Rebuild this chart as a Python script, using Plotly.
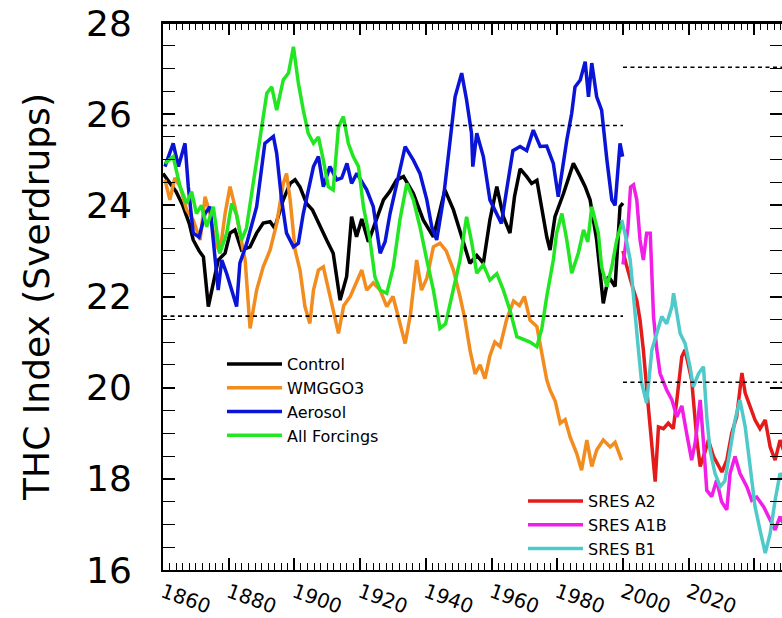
import plotly.graph_objects as go

# ---------------- data ----------------
ctrl_years = [1860, 1862, 1864, 1866, 1868, 1869.2, 1871, 1872.3, 1873.8, 1875.3, 1876.8, 1878.9, 1880.4, 1881.9,
              1883.9, 1886.5, 1888.5, 1890.5, 1892.6, 1894, 1896.6, 1898.7, 1900.2, 1901.7, 1903.7, 1905.5, 1907.8,
              1909.8, 1911.8, 1913.9, 1915.9, 1917.4, 1918.9, 1920.5, 1922.5, 1924.5, 1927.1, 1929, 1931.1, 1933.2,
              1936.2, 1939.2, 1942.3, 1944, 1945.8, 1948.4, 1951.4, 1953.4, 1955.5, 1957.5, 1959.5, 1961.6, 1963.6,
              1965.6, 1967, 1968.7, 1970.7, 1972.2, 1973.8, 1975.3, 1976.8, 1977.8, 1979.3, 1981.9, 1984.9, 1987,
              1988.5, 1990, 1992, 1994, 1995.6, 1997.6, 1999.1, 2000]
ctrl_vals = [24.7, 24.5, 24.3, 24.0, 23.6, 23.24, 23.0, 22.87, 21.78, 22.29, 22.8, 22.95, 23.39, 23.46,
             23.02, 23.09, 23.39, 23.61, 23.64, 23.5, 24.12, 24.48, 24.56, 24.4, 24.04, 23.9, 23.53,
             23.24, 22.95, 21.92, 22.44, 23.75, 23.31, 23.7, 23.2, 23.6, 24.12, 24.3, 24.56, 24.63,
             24.26, 23.68, 23.31, 23.8, 24.34, 23.9, 23.17, 22.73, 22.9, 22.73, 23.68, 24.41, 23.75,
             23.39, 24.2, 24.8, 24.63, 24.48, 24.55, 23.9, 23.31, 23.02, 23.75, 24.26, 24.92, 24.63,
             24.41, 24.12, 23.24, 21.85, 22.44, 22.22, 23.97, 24.05]

wmg_years = [1860.6, 1862.1, 1863.6, 1865.2, 1867.2, 1869.2, 1871.3, 1872.8, 1874.3, 1875.8, 1877.3, 1878.9,
             1880.4, 1881.9, 1883.4, 1885, 1886.5, 1888.5, 1890.5, 1892.6, 1894.6, 1896.6, 1897.6, 1898.7,
             1900.2, 1901.7, 1903.2, 1904.7, 1905.8, 1907.3, 1908.8, 1910.3, 1911.8, 1913.4, 1915, 1917,
             1918.8, 1920.5, 1922, 1924, 1926.1, 1928.1, 1930, 1932.1, 1933.7, 1935.3, 1937.2, 1938.7,
             1940.3, 1942.3, 1944.3, 1946.2, 1948.4, 1950.4, 1951.9, 1953.5, 1955, 1956.5, 1958, 1959.5,
             1961, 1962.6, 1964.6, 1966.7, 1968.5, 1970, 1971.7, 1973.8, 1975.3, 1976.8, 1977.8, 1979.4,
             1980.9, 1982.4, 1983.9, 1985.9, 1987.4, 1989, 1990.5, 1992, 1994, 1996.1, 1997.6, 1999.6]
wmg_vals = [24.56, 24.12, 24.6, 24.41, 23.9, 23.68, 23.24, 24.19, 23.82, 23.24, 22.95, 23.82,
            24.41, 23.97, 23.39, 22.8, 21.3, 22.14, 22.65, 23.02, 23.6, 24.48, 24.7, 24.12,
            23.02, 22.58, 21.78, 21.41, 22.14, 22.58, 22.65, 22.14, 21.7, 21.19, 21.8, 22.0,
            22.3, 22.58, 22.14, 22.3, 22.14, 21.78, 22.0, 21.41, 20.97, 21.6, 22.8, 22.14,
            22.4, 23.09, 23.17, 23.0, 22.58, 22.0, 21.5, 20.8, 20.3, 20.5, 20.2, 20.7,
            21.0, 20.9, 21.5, 21.9, 21.8, 22.0, 21.48, 21.34, 20.75, 20.17, 19.95, 19.7,
            19.22, 19.3, 18.92, 18.56, 18.19, 18.85, 18.27, 18.63, 18.85, 18.7, 18.8, 18.41]

aer_years = [1860.6, 1863.1, 1864.7, 1866.7, 1867.7, 1869.2, 1871, 1872.8, 1874.3, 1875.8, 1876.8, 1877.9,
             1879.4, 1880.9, 1882.4, 1883.4, 1885.5, 1888.5, 1891, 1893.6, 1894.6, 1896.1, 1897.6, 1899.7,
             1901.2, 1902.7, 1904.2, 1905.8, 1907.3, 1908.8, 1910.8, 1912.9, 1914.4, 1916, 1917.4, 1919,
             1922, 1924, 1926.1, 1927.6, 1929.1, 1931.6, 1933.7, 1936.2, 1938.2, 1940.3, 1941.8, 1943.3,
             1945.3, 1947.4, 1948.9, 1950.9, 1952.4, 1953.9, 1954.3, 1955.5, 1957.5, 1959.5, 1961.6, 1963,
             1964.5, 1966.5, 1968.7, 1970.7, 1972.7, 1974.8, 1976.8, 1978.8, 1980.3, 1981.5, 1982.9, 1984.4,
             1985.4, 1987, 1988.5, 1989.5, 1990.5, 1992, 1993.5, 1995.1, 1996.6, 1997.6, 1999.1, 1999.9]
aer_vals = [24.85, 25.36, 24.85, 25.36, 24.41, 23.39, 23.3, 23.82, 23.97, 22.95, 22.14, 22.8,
            22.5, 22.14, 21.78, 22.73, 23.17, 23.97, 25.36, 25.51, 25.14, 24.12, 23.39, 23.09,
            23.17, 23.82, 24.3, 24.85, 25.07, 24.41, 24.85, 24.56, 24.6, 24.92, 24.48, 24.7,
            24.34, 23.97, 22.95, 23.2, 23.82, 24.63, 25.29, 24.99, 24.7, 24.12, 23.53, 23.24,
            24.12, 25.43, 26.38, 26.9, 26.31, 25.58, 24.85, 25.58, 25.07, 24.12, 23.82, 23.6,
            24.3, 25.2, 25.29, 25.2, 25.65, 25.29, 25.3, 24.92, 24.19, 24.8, 25.43, 26.02,
            26.6, 26.75, 27.15, 26.38, 27.12, 26.38, 26.09, 25.0, 24.12, 24.0, 25.36, 25.07]

allf_years = [1860.6, 1863.1, 1865.2, 1867.2, 1868.7, 1870.2, 1871.7, 1873.3, 1875.3, 1877.3, 1879.4, 1880.9,
              1882.4, 1883.9, 1885.4, 1887.5, 1889.5, 1891.6, 1893.1, 1894.6, 1896.6, 1898.2, 1899.7, 1901.2,
              1902.7, 1904.2, 1905.8, 1907.3, 1908.8, 1910.3, 1911.8, 1913.4, 1914.9, 1916.4, 1917.9, 1919.5,
              1921, 1923, 1924.5, 1926.1, 1928.1, 1930.1, 1932.1, 1934.2, 1936.2, 1938.2, 1940.3, 1942.3,
              1944.3, 1946, 1947.4, 1950.4, 1952.4, 1954, 1955.5, 1957.5, 1959.5, 1961.6, 1963.6, 1965.6,
              1967.7, 1969.7, 1971.7, 1973.8, 1975.3, 1976.8, 1978.8, 1979.8, 1981.4, 1982.9, 1984.4, 1986.4,
              1988, 1989.3, 1990.5, 1992.5, 1993.5, 1995.1, 1996.6, 1998.1, 1999.6]
allf_vals = [24.92, 25.07, 24.41, 24.04, 24.3, 23.82, 24.0, 23.53, 23.97, 22.95, 23.39, 24.04,
             23.8, 23.24, 23.5, 24.48, 25.43, 26.46, 26.6, 26.09, 26.75, 26.9, 27.48, 26.68,
             26.09, 25.58, 25.36, 25.5, 24.99, 24.41, 24.34, 25.72, 25.95, 25.36, 25.07, 24.85,
             23.97, 23.24, 22.43, 22.14, 22.07, 22.65, 23.68, 24.48, 24.12, 23.53, 22.8, 22.14,
             21.3, 21.4, 21.85, 22.8, 23.75, 23.17, 22.51, 22.7, 22.36, 22.5, 22.14, 21.7,
             21.12, 21.05, 21.0, 20.9, 21.3, 22.0, 22.8, 23.39, 23.82, 23.24, 22.51, 22.95,
             23.46, 23.2, 23.97, 23.39, 22.65, 22.22, 22.65, 23.24, 23.6]

a2_years = [2000, 2001, 2003.2, 2004.2, 2005.2, 2006.2, 2007.8, 2009.8, 2010.8, 2012.3, 2013.8, 2015.3,
            2016.4, 2017.9, 2018.9, 2019.9, 2020.9, 2022.5, 2023.5, 2025, 2026, 2027.5, 2029.1, 2030.1,
            2031.6, 2033.1, 2034.6, 2036.2, 2037.2, 2038.7, 2040.2, 2041.7, 2043.3, 2044.8, 2046.3, 2047.8, 2049]
a2_vals = [23.0, 22.7, 22.14, 21.92, 21.48, 20.83, 19.51, 17.94, 19.14, 19.1, 19.22, 19.1,
           19.73, 20.68, 20.83, 20.5, 20.17, 18.85, 18.27, 18.6, 18.85, 18.5, 18.27, 18.15,
           18.41, 19.0, 19.36, 20.32, 19.88, 19.58, 19.29, 19.1, 19.29, 18.7, 18.41, 18.85, 18.6]

a1b_years = [2000, 2001.5, 2002.3, 2003.2, 2004.2, 2005.2, 2006.2, 2007.2, 2008.3, 2009.3, 2010.3, 2011.3,
             2013.3, 2014.9, 2016.4, 2017.9, 2019.4, 2020.9, 2022, 2023.5, 2024.5, 2025.5, 2027, 2028.5,
             2030, 2031.6, 2032.6, 2034.1, 2035.6, 2037.7, 2039.2, 2040.7, 2042.8, 2044.8, 2046.3, 2047.8, 2049]
a1b_vals = [22.7, 23.5, 24.4, 24.45, 24.12, 23.24, 22.8, 23.39, 23.39, 21.56, 20.83, 20.31,
            19.95, 19.73, 19.36, 19.6, 18.99, 18.41, 18.8, 19.73, 18.8, 17.75, 17.61, 17.97,
            17.5, 17.32, 18.12, 18.49, 18.12, 17.83, 17.53, 17.6, 17.39, 17.1, 16.88, 17.17, 17.0]

b1_years = [1999.6, 2000.6, 2002.2, 2003.2, 2004.7, 2005.7, 2007.2, 2008.8, 2010.3, 2011.8, 2013.3, 2014.9,
            2015.4, 2017.4, 2018.9, 2020.4, 2021.4, 2023, 2024.5, 2025.5, 2026.5, 2028, 2029.6, 2031,
            2032.6, 2034.1, 2035.6, 2037.2, 2038.7, 2040.2, 2041.7, 2043.3, 2044.8, 2046.3, 2047.8, 2049]
b1_vals = [23.68, 23.39, 22.8, 21.92, 20.83, 20.1, 19.66, 20.83, 21.19, 21.56, 21.4, 21.78,
           22.07, 21.19, 20.97, 20.46, 20.02, 20.31, 20.46, 19.36, 18.63, 18.12, 17.83, 17.95,
           18.63, 19.29, 19.73, 19.14, 18.27, 17.39, 16.88, 16.37, 16.8, 17.53, 18.12, 18.0]

# +/- range reference levels (dashed)
hist_span = [1860, 2000]
hist_levels = [25.75, 21.57]
proj_span = [2000, 2050]
proj_levels = [27.03, 20.12]

x_range = [1860, 2048.4]
x_tick_vals = [1860, 1880, 1900, 1920, 1940, 1960, 1980, 2000, 2020, 2040]
x_tick_text = ["1860", "1880", "1900", "1920", "1940", "1960", "1980", "2000", "2020", ""]
y_tick_vals = [16, 18, 20, 22, 24, 26, 28]

FONT = "DejaVu Sans"

fig = go.Figure()

# dashed reference levels (drawn on the top frame axis, which shares the same year scale)
for lvl in hist_levels:
    fig.add_trace(go.Scatter(x=hist_span, y=[lvl, lvl], mode="lines", showlegend=False, xaxis="x2",
                             line=dict(color="black", width=1.6, dash="4px,3.5px"), hoverinfo="skip"))
for lvl in proj_levels:
    fig.add_trace(go.Scatter(x=proj_span, y=[lvl, lvl], mode="lines", showlegend=False, xaxis="x2",
                             line=dict(color="black", width=1.6, dash="4px,3.5px"), hoverinfo="skip"))

hist = [("Control", ctrl_years, ctrl_vals, "#000000"),
        ("WMGGO3", wmg_years, wmg_vals, "#F28C1E"),
        ("Aerosol", aer_years, aer_vals, "#0A14D6"),
        ("All Forcings", allf_years, allf_vals, "#22E622")]
for name, xs, ys, col in hist:
    fig.add_trace(go.Scatter(x=xs, y=ys, mode="lines", name=name, legend="legend",
                             line=dict(color=col, width=3.5)))

proj = [("SRES A2", a2_years, a2_vals, "#E41B1B"),
        ("SRES A1B", a1b_years, a1b_vals, "#F01EE6"),
        ("SRES B1", b1_years, b1_vals, "#4FC9C9")]
for name, xs, ys, col in proj:
    fig.add_trace(go.Scatter(x=xs, y=ys, mode="lines", name=name, legend="legend2",
                             line=dict(color=col, width=3.5)))

tick_style = dict(ticks="inside", ticklen=12, tickwidth=1.5, tickcolor="black",
                  showline=True, linewidth=2, linecolor="black", showgrid=False, zeroline=False)
minor_x = dict(dtick=2, tick0=1860, ticks="inside", ticklen=7, tickwidth=1.2, tickcolor="black", showgrid=False)

fig.update_layout(
    width=782, height=618,
    margin=dict(l=163, r=0, t=23, b=48),
    paper_bgcolor="white", plot_bgcolor="white",
    font=dict(family=FONT, color="black"),
    legend=dict(x=0.0953, y=0.4077, xanchor="left", yanchor="top", bgcolor="rgba(0,0,0,0)",
                font=dict(family=FONT, size=16), itemwidth=55, tracegroupgap=0),
    legend2=dict(x=0.5816, y=0.157, xanchor="left", yanchor="top", bgcolor="rgba(0,0,0,0)",
                 font=dict(family=FONT, size=16), itemwidth=55, tracegroupgap=0),
    xaxis=dict(
        range=x_range, tickmode="array", tickvals=x_tick_vals, ticktext=x_tick_text,
        tickangle=20, tickfont=dict(family=FONT, size=20), ticklabelstandoff=1,
        minor=minor_x, automargin=False, **tick_style,
    ),
    # top frame axis (same year scale, ticks only)
    xaxis2=dict(
        range=x_range, tickmode="array", tickvals=x_tick_vals, overlaying="x", side="top", anchor="y",
        showticklabels=False, minor=minor_x, automargin=False, **tick_style,
    ),
    yaxis=dict(
        range=[16, 28], tickmode="array", tickvals=y_tick_vals, mirror="allticks",
        tickfont=dict(family=FONT, size=36), ticklabelstandoff=22,
        minor=dict(dtick=0.5, tick0=16, ticks="inside", ticklen=7, tickwidth=1.2, tickcolor="black", showgrid=False),
        title=dict(text="THC Index (Sverdrups)", font=dict(family=FONT, size=36), standoff=25),
        automargin=False, **tick_style,
    ),
    shapes=[dict(type="line", xref="paper", yref="paper", x0=0, x1=1, y0=1, y1=1,
                 line=dict(color="black", width=2), layer="above")],
)

# remove the browser's default 8px body margin so the figure sits at the page origin
fig.write_html("out.html", config={"displayModeBar": False},
               post_script="document.body.style.margin='0';")
